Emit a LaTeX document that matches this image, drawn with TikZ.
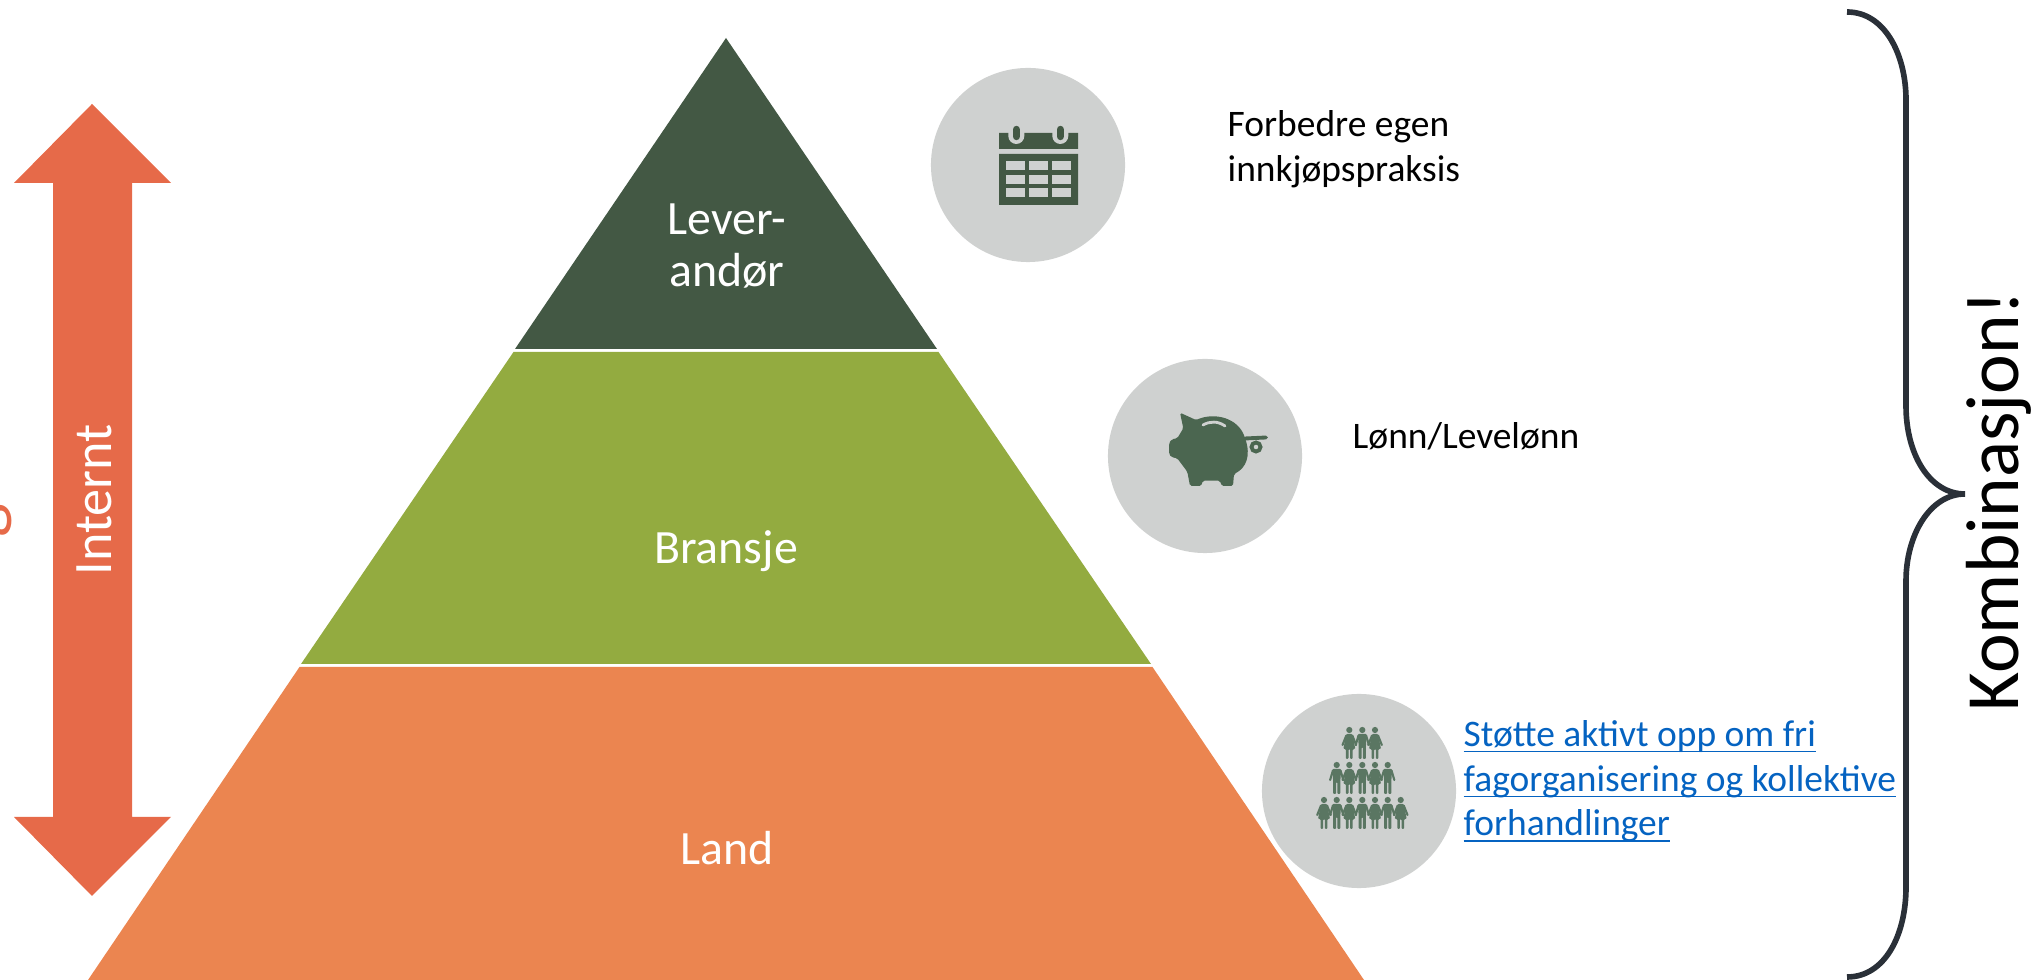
\documentclass[tikz,border=0pt]{standalone}
\usepackage{fontspec}
\setmainfont{Carlito}
\definecolor{dark}{HTML}{435844}
\definecolor{leaf}{HTML}{93AB40}
\definecolor{clay}{HTML}{EB8550}
\definecolor{rust}{HTML}{E66A49}
\definecolor{disc}{HTML}{CFD1D0}
\definecolor{pig}{HTML}{4B6650}
\definecolor{folk}{HTML}{5A7662}
\definecolor{ink}{HTML}{2A3038}
\definecolor{link}{HTML}{0563C1}
\newcommand{\lnk}[1]{\underline{\smash{#1}}}
\tikzset{
  layer/.style={text=white,font=\fontsize{13.6}{15}\selectfont,align=center},
  note/.style={text=black,font=\fontsize{10.65}{13}\selectfont,align=left,anchor=base west,inner sep=0pt},
  icon/.style={circle,fill=disc,minimum size=1.94cm,inner sep=0pt},
  man/.pic={
    \fill (0,0) circle[radius=3.1];
    \fill[rounded corners=0.3pt] (-4.5,4) -- (4.5,4) -- (3.6,16) -- (3.6,29) -- (0.6,29) -- (0.6,17) -- (-0.6,17) -- (-0.6,29) -- (-3.6,29) -- (-3.6,16) -- cycle;
    \draw[folk,line width=0.6pt,line cap=round] (-3.8,5.5) -- (-6.6,15) (3.8,5.5) -- (6.6,15);
  },
  woman/.pic={
    \fill (0,0) circle[radius=3.1];
    \fill[rounded corners=0.3pt] (-3,4) -- (3,4) -- (6,19) -- (3.4,19) -- (3.4,29) -- (0.8,29) -- (0.8,19) -- (-0.8,19) -- (-0.8,29) -- (-3.4,29) -- (-3.4,19) -- (-6,19) -- cycle;
    \draw[folk,line width=0.6pt,line cap=round] (-3,5.5) -- (-6.8,15) (3,5.5) -- (6.8,15);
  },
}
\begin{document}
\begin{tikzpicture}[x=0.01cm,y=-0.01cm]
\clip (0,0) rectangle (2033,980);
% pyramid
\fill[dark] (726,38) -- (937,349) -- (515,349) -- cycle;
\fill[leaf] (513.5,352) -- (938.5,352) -- (1151,664) -- (301,664) -- cycle;
\fill[clay] (299.5,667) -- (1152.5,667) -- (1364,980) -- (88,980) -- cycle;
\node[layer] (lever) at (727,246) {Lever-\\andør};
\node[layer] (bransje) at (726,551) {Bransje};
\node[layer] (land) at (727,848) {Land};
% arrow
\fill[rust] (92,104) -- (171,183) -- (132,183) -- (132,817) -- (171,817) -- (92,896) -- (14,817) -- (53,817) -- (53,183) -- (14,183) -- cycle;
\node[text=white,font=\fontsize{15.4}{19}\selectfont,rotate=90,anchor=base] (internt) at (111,500) {Internt};
\node[text=rust,font=\fontsize{20.5}{24}\selectfont,rotate=90,anchor=base] (cutoff) at (-1,521) {g};
% calendar
\node[icon] (cal) at (1028,165) {};
\fill[dark] (999,133) rectangle (1078,149) (999,154) rectangle (1078,205);
\foreach \cx in {1016.3,1060.3} {
  \fill[disc] (\cx-8,130) -- (\cx+8,130) -- (\cx+8,136) arc[start angle=0,end angle=180,radius=8] -- cycle;
  \draw[dark,line width=2.1pt,line cap=round] (\cx,129.5) -- (\cx,136.5);
}
\foreach \cx in {1006,1029,1052.3}
  \foreach \cy in {160.7,174.7,188.5}
    \fill[disc] (\cx,\cy) rectangle ++(18.7,8.9);
\node[note] (bedre) at (1227,182) {Forbedre egen\\innkjøpspraksis};
% pig
\node[icon] (sparegris) at (1205,456) {};
\fill[pig,rounded corners=0.5pt] (1180,412.7) -- (1196,420) .. controls (1215,412) and (1238,418) .. (1245,438) .. controls (1251,456) and (1246,468) .. (1234,474) -- (1233,486) -- (1221.7,486) -- (1220,480.7) -- (1202.7,480.7) -- (1201.3,486) -- (1190,486) -- (1187.3,471.7) .. controls (1183,466) and (1180,462) .. (1177.3,458.3) -- (1171.7,457.3) -- (1169,454) -- (1169,443.3) -- (1171.7,439.3) -- (1177.3,438.3) -- (1183.3,428.3) -- cycle;
\draw[disc,line width=0.8pt,line cap=round] (1203,425) .. controls (1210,421) and (1218,421) .. (1225,426);
\draw[pig,line width=1.1pt,line cap=round] (1245,438.5) -- (1266,437.5);
\draw[pig,line width=1.1pt] (1256,447) circle[radius=4.5];
\node[note] (lonn) at (1352,449) {Lønn/Levelønn};
% people
\node[icon] (folkring) at (1359,791) {};
\begin{scope}[fill=folk]
\foreach \px/\py in {1349.3/730,1375/730,1349.3/765,1375/765,1324/800,1349.3/800,1375/800,1400.7/800}
  \pic at (\px,\py) {woman};
\foreach \px/\py in {1362.3/730,1336.7/765,1362.3/765,1387.7/765,1336.7/800,1362.3/800,1387.7/800}
  \pic at (\px,\py) {man};
\end{scope}
\node[note,text=link,font=\fontsize{10.65}{12.7}\selectfont] (fag) at (1463,836) {\lnk{Støtte aktivt opp om fri}\\\lnk{fagorganisering og kollektive}\\\lnk{forhandlinger}};
% brace
\draw[ink,line width=1.6pt] (1847,12) .. controls (1885,12) and (1906,55) .. (1906,100) -- (1906,406) .. controls (1906,455) and (1930,494) .. (1965,494) .. controls (1930,494) and (1906,535) .. (1906,581) -- (1906,887) .. controls (1906,935) and (1885,977) .. (1847,977);
\node[text=black,font=\fontsize{21.4}{25}\selectfont,rotate=90,anchor=base] (kombi) at (2018,501) {Kombinasjon!};
\end{tikzpicture}
\end{document}
